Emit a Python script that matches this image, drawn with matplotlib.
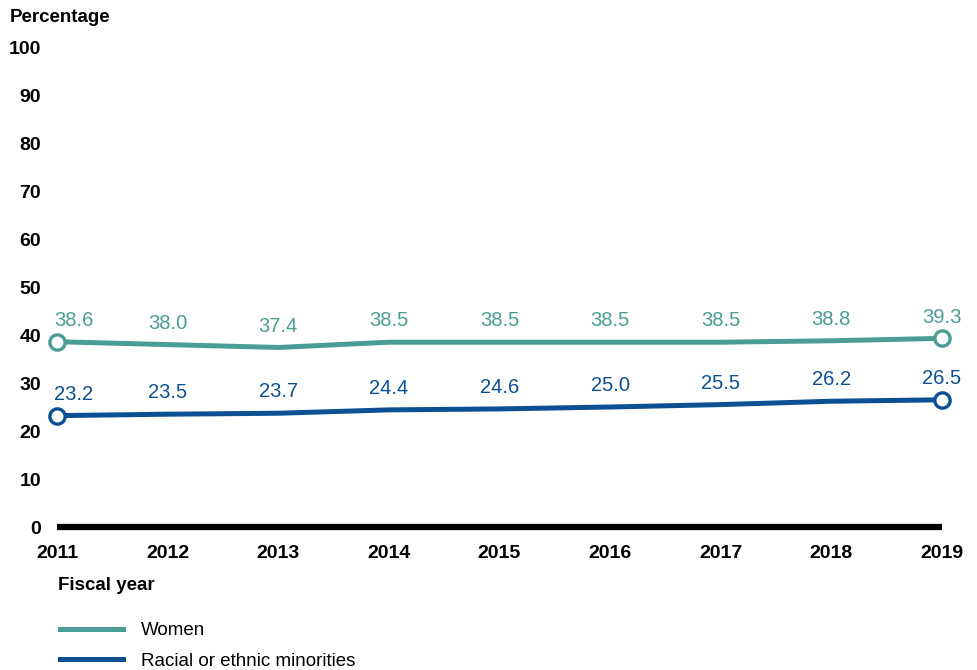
import matplotlib.pyplot as plt
from matplotlib.lines import Line2D

plt.rcParams["font.family"] = ["Liberation Sans", "DejaVu Sans"]

# ---------------------------------------------------------------------------
# Data
# ---------------------------------------------------------------------------
years = [2011, 2012, 2013, 2014, 2015, 2016, 2017, 2018, 2019]
women = [38.6, 38.0, 37.4, 38.5, 38.5, 38.5, 38.5, 38.8, 39.3]
minorities = [23.2, 23.5, 23.7, 24.4, 24.6, 25.0, 25.5, 26.2, 26.5]
series_names = ["Women", "Racial or ethnic minorities"]
y_ticks = [0, 10, 20, 30, 40, 50, 60, 70, 80, 90, 100]

TEAL = "#4a9d92"
BLUE = "#0c5093"

fig = plt.figure(figsize=(9.78, 6.70), dpi=100)
ax = fig.add_axes([57 / 978, 1 - 527 / 670, (942 - 57) / 978, (527 - 47) / 670])

for values, color in [(women, TEAL), (minorities, BLUE)]:
    ax.plot(years, values, color=color, lw=3.6, solid_capstyle="butt", zorder=3)
    # open markers only at the endpoints
    ax.plot([years[0], years[-1]], [values[0], values[-1]], ls="none", marker="o",
            ms=11, mfc="white", mec=color, mew=2.4, zorder=4, clip_on=False)
    for i, (x, v) in enumerate(zip(years, values)):
        dx = 12 if i == 0 else 0  # first label nudged clear of the y ticks
        ax.annotate(f"{v:.1f}", (x, v), xytext=(dx, 8.5), textcoords="offset points",
                    ha="center", va="bottom", fontsize=14.5, color=color)

# baseline at zero
ax.plot([years[0], years[-1]], [0, 0], color="black", lw=4.5,
        solid_capstyle="butt", clip_on=False, zorder=2)

ax.set_xlim(years[0], years[-1])
ax.set_ylim(0, 100)
ax.set_xticks(years)
ax.set_yticks(y_ticks)
ax.tick_params(length=0)
ax.tick_params(axis="y", pad=11.5)
ax.tick_params(axis="x", pad=13)
for lab in ax.get_xticklabels() + ax.get_yticklabels():
    lab.set_fontweight("bold")
    lab.set_fontsize(14)
for sp in ax.spines.values():
    sp.set_visible(False)

fig.text(10 / 978, 1 - 17 / 670, "Percentage", fontsize=13.5, fontweight="bold",
         ha="left", va="center")
fig.text(58 / 978, 1 - 585 / 670, "Fiscal year", fontsize=13.5, fontweight="bold",
         ha="left", va="center")

handles = [Line2D([], [], color=TEAL, lw=3.6), Line2D([], [], color=BLUE, lw=3.6)]
fig.legend(handles, series_names, loc="upper left",
           bbox_to_anchor=(60 / 978, 1 - 622 / 670), frameon=False, fontsize=13.5,
           handlelength=3.35, handletextpad=0.95, labelspacing=0.72, borderpad=0,
           borderaxespad=0)

fig.savefig("out.png", dpi=100)
